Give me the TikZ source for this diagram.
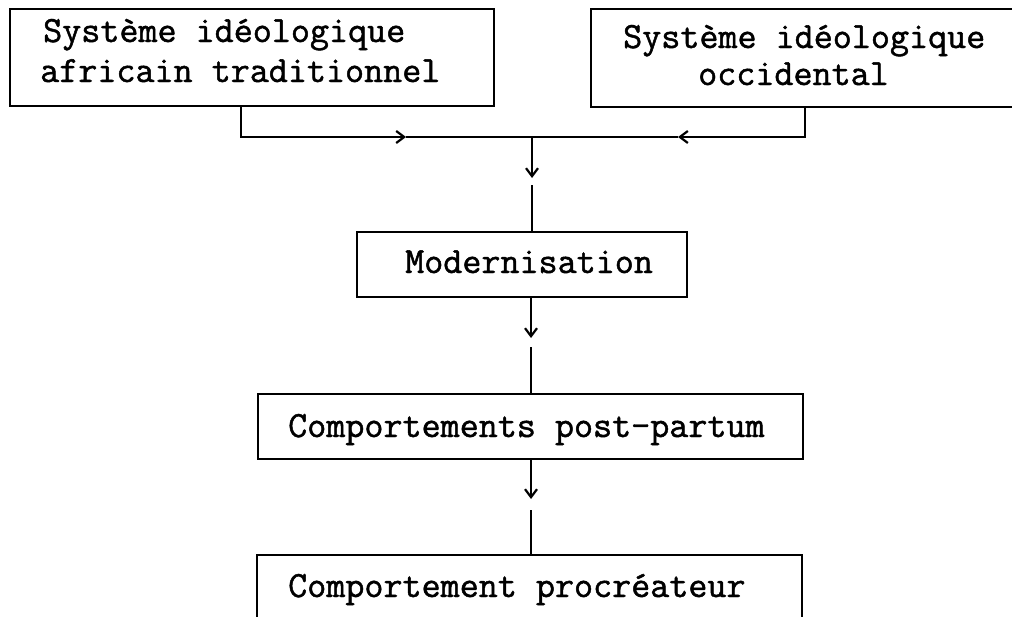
\documentclass[tikz,border=0pt]{standalone}
\usepackage{fontspec}
\newfontfamily\heavytt{Latin Modern Mono}[FakeBold=1.3]
\usetikzlibrary{arrows.meta}
\begin{document}
\begin{tikzpicture}[x=1pt,y=-1pt,
  boxstyle/.style={draw, line width=1.5pt, rectangle, inner sep=0pt},
  txt/.style={anchor=base west, inner sep=0pt, font=\heavytt\fontsize{37}{40}\selectfont},
  conn/.style={line width=1.5pt},
  tip/.style={-{Straight Barb[length=8pt,width=12pt,line width=2.2pt]}}
]
\useasboundingbox (0,0) rectangle (1012,616);
\clip (0,0) rectangle (1012,616);
\fill[white] (0,0) rectangle (1012,616);

% boxes
\node[boxstyle, minimum width=484pt, minimum height=97pt] (A) at (252,57.5) {};
\node[boxstyle, minimum width=429pt, minimum height=98pt] (B) at (805.5,58) {};
\node[boxstyle, minimum width=330pt, minimum height=65pt] (M) at (522,264.5) {};
\node[boxstyle, minimum width=545pt, minimum height=65pt] (P) at (530.5,426.5) {};
\node[boxstyle, minimum width=545pt, minimum height=66pt] (C) at (529.5,588) {};

% texts
\node[txt] (a1) at (43,42) {Système idéologique};
\node[txt] (a2) at (40,82) {africain traditionnel};
\node[txt] (b1) at (623,48) {Système idéologique};
\node[txt] (b2) at (698,85) {occidental};
\node[txt] (m1) at (405,273) {Modernisation};
\node[txt] (p1) at (288,437) {Comportements post-partum};
\node[txt] (c1) at (288,597) {Comportement procréateur};

% coordinates for connectors
\coordinate (aL) at (241,137);
\coordinate (bR) at (805,137);
\coordinate (hA) at (406,137);
\coordinate (hB) at (678,137);
\coordinate (J) at (532,137);
\coordinate (t1) at (532,178);
\coordinate (s1) at (532,185);
\coordinate (t2) at (531,338);
\coordinate (s2) at (531,347);
\coordinate (t3) at (531,499);
\coordinate (s3) at (531,510);

% connectors
\draw[conn, tip] (A.south -| aL) -- (aL) -- (hA);
\draw[conn] (hA) -- (J);
\draw[conn, tip] (B.south -| bR) -- (bR) -- (hB);
\draw[conn] (hB) -- (J);
\draw[conn, tip] (J) -- (t1);
\draw[conn] (s1) -- (M.north -| s1);
\draw[conn, tip] (M.south -| t2) -- (t2);
\draw[conn] (s2) -- (P.north -| s2);
\draw[conn, tip] (P.south -| t3) -- (t3);
\draw[conn] (s3) -- (C.north -| s3);
\end{tikzpicture}
\end{document}
